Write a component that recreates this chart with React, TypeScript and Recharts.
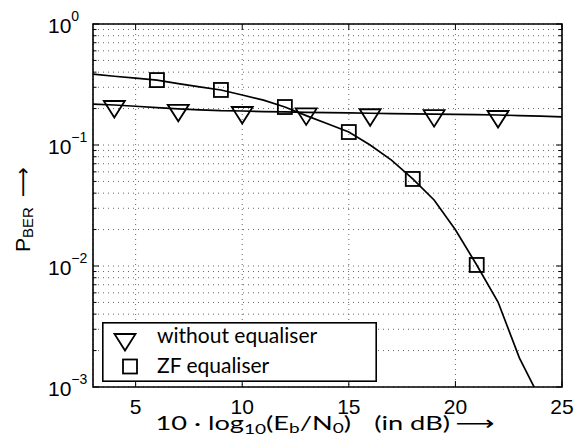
import React from 'react';
import { ComposedChart, Line, XAxis, YAxis, CartesianGrid, ReferenceArea, Legend } from 'recharts';

// ---- data ----
const snrDb = [3, 4, 5, 6, 7, 8, 9, 10, 11, 12, 13, 14, 15, 16, 17, 18, 19, 20, 21, 22, 23, 24, 25];
const berWithoutEq = [0.218, 0.214, 0.209, 0.204, 0.199, 0.195, 0.192, 0.191, 0.189, 0.188, 0.186, 0.185, 0.184, 0.183, 0.182, 0.181, 0.18, 0.179, 0.178, 0.177, 0.175, 0.173, 0.171];
const berZF = [0.386, 0.37, 0.357, 0.344, 0.322, 0.302, 0.285, 0.259, 0.235, 0.206, 0.175, 0.15, 0.128, 0.1, 0.075, 0.0524, 0.0351, 0.0199, 0.0102, 0.00504, 0.00174, 0.00078, null];
const withoutEqMarkerDb = [4, 7, 10, 13, 16, 19, 22];
const zfMarkerDb = [6, 9, 12, 15, 18, 21];
const xTicks = [5, 10, 15, 20, 25];
const yTicks = [
  0.001, 0.002, 0.003, 0.004, 0.005, 0.006, 0.007, 0.008, 0.009,
  0.01, 0.02, 0.03, 0.04, 0.05, 0.06, 0.07, 0.08, 0.09,
  0.1, 0.2, 0.3, 0.4, 0.5, 0.6, 0.7, 0.8, 0.9, 1,
];
const seriesNames = ['without equaliser', 'ZF equaliser'];
const yLabelMain = 'P';
const yLabelSub = 'BER';

const data = snrDb.map((x, i) => ({ x, noEq: berWithoutEq[i], zf: berZF[i] }));

// ---- layout ----
const W = 576;
const H = 446;
const M = { top: 24, right: 14, bottom: 0, left: 0 };
const Y_AXIS_W = 93;
const X_AXIS_H = 59;
const PLOT_W = W - M.right - Y_AXIS_W;
const PLOT_H = H - M.top - X_AXIS_H;
const TICK_FONT = '"Liberation Sans", Arial, Helvetica, sans-serif';
const TEXT_FONT = 'Lato, "Open Sans", sans-serif';
const ARROW_FONT = '"DejaVu Sans", sans-serif';

const isMajor = (v: number) => {
  const l = Math.log10(v);
  return Math.abs(l - Math.round(l)) < 1e-9;
};

const Triangle = ({ cx, cy }: { cx: number; cy: number }) => (
  <polygon
    points={`${cx - 10.5},${cy - 4} ${cx + 10.5},${cy - 4} ${cx},${cy + 12.5}`}
    fill="none"
    stroke="#000"
    strokeWidth={1.8}
  />
);

const Square = ({ cx, cy }: { cx: number; cy: number }) => (
  <rect x={cx - 7} y={cy - 7} width={14} height={14} fill="none" stroke="#000" strokeWidth={1.8} />
);

const renderTriDot = (props: any) => {
  const { cx, cy, payload, index } = props;
  if (!withoutEqMarkerDb.includes(payload.x) || cx == null || cy == null) return <g key={`t${index}`} />;
  return (
    <g key={`t${index}`}>
      <Triangle cx={cx} cy={cy} />
    </g>
  );
};

const renderSqDot = (props: any) => {
  const { cx, cy, payload, index } = props;
  if (!zfMarkerDb.includes(payload.x) || cx == null || cy == null || payload.zf == null) return <g key={`s${index}`} />;
  return (
    <g key={`s${index}`}>
      <Square cx={cx} cy={cy} />
    </g>
  );
};

const YTick = (props: any) => {
  const { x, y, payload } = props;
  const v = payload.value;
  const major = isMajor(v);
  const len = major ? 6 : 3.5;
  const left = x;
  const right = x + PLOT_W;
  const exp = Math.round(Math.log10(v));
  return (
    <g>
      <line x1={left} x2={left + len} y1={y} y2={y} stroke="#000" strokeWidth={1} />
      <line x1={right} x2={right - len} y1={y} y2={y} stroke="#000" strokeWidth={1} />
      {major && (
        <text x={left - 45} y={y + 9} fontFamily={TICK_FONT} fontSize={21} fill="#000" textAnchor="start">
          10
          <tspan dy={-12} fontSize={14}>
            {exp < 0 ? `\u2212${-exp}` : `${exp}`}
          </tspan>
        </text>
      )}
    </g>
  );
};

const XTick = (props: any) => {
  const { x, y, payload } = props;
  const top = y - PLOT_H;
  return (
    <g>
      <line x1={x} x2={x} y1={y} y2={y - 6} stroke="#000" strokeWidth={1} />
      <line x1={x} x2={x} y1={top} y2={top + 6} stroke="#000" strokeWidth={1} />
      <text x={x} y={y + 27} fontFamily={TICK_FONT} fontSize={21} fill="#000" textAnchor="middle">
        {payload.value}
      </text>
    </g>
  );
};

const renderLegend = () => (
  <svg width={275} height={60} style={{ display: 'block' }}>
    <rect x={0.8} y={0.8} width={273.4} height={58.4} fill="#fff" stroke="#000" strokeWidth={1.6} />
    <Triangle cx={23} cy={16} />
    <text x={55} y={21} fontFamily={TEXT_FONT} fontSize={21} fill="#000">
      {seriesNames[0]}
    </text>
    <Square cx={28} cy={44.5} />
    <text x={55} y={51} fontFamily={TEXT_FONT} fontSize={21} fill="#000">
      {seriesNames[1]}
    </text>
  </svg>
);

const XLabel = () => {
  const cx = 325;
  const s = 1.36;
  return (
    <g transform={`translate(${cx},0) scale(${s},1) translate(${-cx},0)`}>
      <text x={cx} y={430} fontFamily={TEXT_FONT} fontSize={20} fill="#000" textAnchor="middle">
        10 · log
        <tspan dy={4} fontSize={14}>10</tspan>
        <tspan dy={-4}>(E</tspan>
        <tspan dy={3} fontSize={14}>b</tspan>
        <tspan dy={-3}>/N</tspan>
        <tspan dy={3} fontSize={14}>0</tspan>
        <tspan dy={-3}>)</tspan>
        <tspan dx={17}>(in dB)</tspan>
        <tspan dx={4} fontFamily={ARROW_FONT}>⟶</tspan>
      </text>
    </g>
  );
};

const YLabel = () => {
  const bx = 30;
  const by = 252;
  return (
    <text
      x={bx}
      y={by}
      transform={`rotate(-90, ${bx}, ${by})`}
      fontFamily={TICK_FONT}
      fontSize={21}
      fill="#000"
      textAnchor="start"
    >
      {yLabelMain}
      <tspan dy={3} fontSize={15}>{yLabelSub}</tspan>
      <tspan dy={-3} dx={10} fontFamily={ARROW_FONT} fontSize={21}>⟶</tspan>
    </text>
  );
};

export default function App() {
  return (
    <div style={{ position: 'absolute', left: 0, top: 0, background: '#fff' }}>
      <ComposedChart width={W} height={H} data={data} margin={M}>
        <CartesianGrid stroke="#666" strokeDasharray="1 4" strokeWidth={1} />
        <XAxis
          dataKey="x"
          type="number"
          domain={[3, 25]}
          ticks={xTicks}
          interval={0}
          allowDataOverflow
          height={X_AXIS_H}
          axisLine={false}
          tickLine={false}
          tickSize={0}
          tickMargin={0}
          tick={<XTick />}
          label={<XLabel />}
        />
        <YAxis
          type="number"
          scale="log"
          domain={[0.001, 1]}
          ticks={yTicks}
          interval={0}
          allowDataOverflow
          width={Y_AXIS_W}
          axisLine={false}
          tickLine={false}
          tickSize={0}
          tickMargin={0}
          tick={<YTick />}
          label={<YLabel />}
        />
        <Line
          dataKey="noEq"
          stroke="#000"
          strokeWidth={1.7}
          dot={renderTriDot}
          activeDot={false}
          isAnimationActive={false}
          connectNulls={false}
        />
        <Line
          dataKey="zf"
          stroke="#000"
          strokeWidth={1.7}
          dot={renderSqDot}
          activeDot={false}
          isAnimationActive={false}
          connectNulls={false}
        />
        <ReferenceArea x1={3} x2={25} y1={0.001} y2={1} fill="none" stroke="#000" strokeWidth={1.6} ifOverflow="visible" />
        <Legend
          layout="horizontal"
          verticalAlign="middle"
          align="center"
          content={renderLegend}
          wrapperStyle={{ left: 102, top: 322, width: 275, height: 60 }}
        />
      </ComposedChart>
    </div>
  );
}
